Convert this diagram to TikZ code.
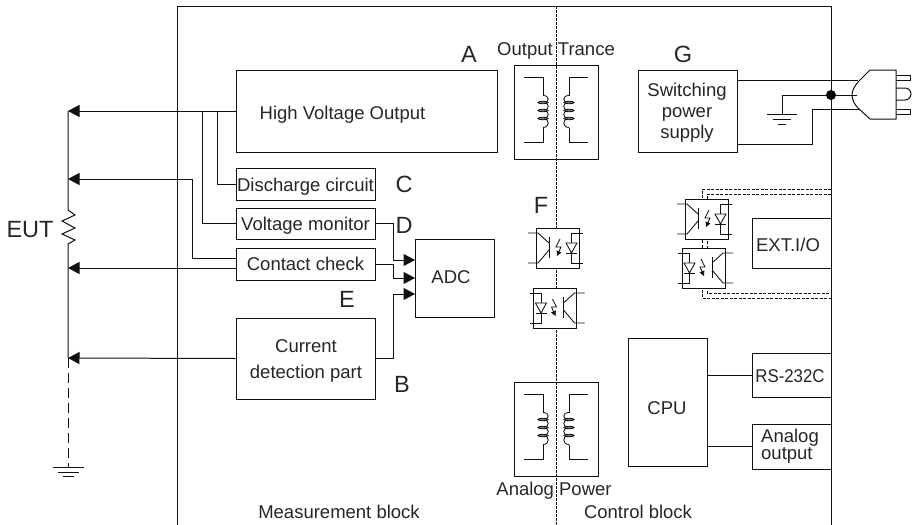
\documentclass[tikz,border=0pt]{standalone}
\usepackage{fontspec}
\setmainfont{Liberation Sans}
\usetikzlibrary{arrows.meta}
\definecolor{ink}{HTML}{101010}
\definecolor{txt}{HTML}{262626}
\tikzset{
  x=1pt,y=-1pt,
  wire/.style={draw=ink,line width=1pt},
  thin wire/.style={draw=ink,line width=0.85pt},
  blk/.style={draw=ink,line width=1pt,fill=white,rectangle,inner sep=0pt},
  hollow/.style={draw=ink,line width=1pt,rectangle,inner sep=0pt},
  lbl/.style={text=txt,inner sep=0pt,anchor=base,font=\fontsize{18.5}{21}\selectfont},
  lbl big/.style={text=txt,inner sep=0pt,anchor=base,font=\fontsize{23.5}{26}\selectfont},
  arr/.style={wire,-{Triangle[length=11.5pt,width=12pt]}},
  winding/.pic={
    \draw[thin wire] (-32,-32) -- (-13,-32) -- (-13,-14);
    \draw[thin wire] (-13,-14) .. controls (-6,-14) and (-6,-7) .. (-13,-7)
      .. controls (-6,-7) and (-6,1) .. (-13,1)
      .. controls (-6,1) and (-6,9) .. (-13,9)
      .. controls (-6,9) and (-6,18) .. (-13,18);
    \foreach \yy in {-7,1,9}{\draw[thin wire,fill=ink!60] (-13,\yy) ellipse [x radius=5pt,y radius=1.3pt];}
    \draw[thin wire] (-13,18) -- (-13,33) -- (-32,33);
  },
  opto/.pic={
    \draw[wire,fill=white] (0,0) rectangle (43,40);
    \draw[thin wire] (-8,5) -- (2,5) -- (13,15);
    \draw[thin wire] (13,9) -- (13,30);
    \draw[thin wire] (13,22) -- (2,35) -- (-8,35);
    \draw[thin wire] (47,5) -- (35.5,5) -- (35.5,15);
    \draw[thin wire] (30,15) -- (41,15) -- (35.5,25) -- cycle;
    \draw[thin wire] (30,25) -- (41,25);
    \draw[thin wire] (35.5,25) -- (35.5,35) -- (47,35);
    \draw[thin wire,-{Triangle[length=5pt,width=5pt]}] (24,11) -- (20,19) -- (25,19) -- (21,28);
  }
}
\begin{document}
\begin{tikzpicture}
\useasboundingbox (0,0) rectangle (914,525);

% frame
\coordinate (ftl) at (177,6);
\coordinate (fbl) at (177,525);
\coordinate (ftr) at (831,6);
\coordinate (fbr) at (831,525);
\draw[wire] (fbl) -- (ftl) -- (ftr) -- (fbr);
\coordinate (ct) at (556,6);
\coordinate (cb) at (556,525);
\draw[ink,line width=1pt,dash pattern=on 2.5pt off 1.5pt] (ct) -- (cb);

% EXT shield
\coordinate (s1) at (831,189);\coordinate (s2) at (702,189);\coordinate (s3) at (702,298);\coordinate (s4) at (831,298);
\coordinate (t1) at (831,194);\coordinate (t2) at (707,194);\coordinate (t3) at (707,293);\coordinate (t4) at (831,293);
\draw[ink,line width=0.9pt,dash pattern=on 3pt off 1.5pt] (s1) -- (s2) -- (s3) -- (s4);
\draw[ink,line width=0.9pt,dash pattern=on 3pt off 1.5pt] (t1) -- (t2) -- (t3) -- (t4);

% blocks
\node[blk,minimum width=261pt,minimum height=82pt] (hv) at (366.5,111) {};
\node[blk,minimum width=139pt,minimum height=32pt] (dc) at (305.5,184) {};
\node[blk,minimum width=139pt,minimum height=31pt] (vm) at (305.5,223.5) {};
\node[blk,minimum width=139pt,minimum height=32pt] (cc) at (305.5,264) {};
\node[blk,minimum width=139pt,minimum height=81pt] (cd) at (305.5,358.5) {};
\node[blk,minimum width=79pt,minimum height=78pt] (adc) at (454.5,278) {};
\node[hollow,minimum width=84pt,minimum height=94pt] (ot) at (556,112) {};
\node[hollow,minimum width=84pt,minimum height=94pt] (ap) at (556,429) {};
\node[blk,minimum width=99pt,minimum height=82pt] (sw) at (687.5,111) {};
\node[blk,minimum width=79pt,minimum height=50pt] (ext) at (791.5,243) {};
\node[blk,minimum width=79pt,minimum height=128pt] (cpu) at (667.5,402) {};
\node[blk,minimum width=79pt,minimum height=44pt] (rs) at (791.5,375) {};
\node[blk,minimum width=79pt,minimum height=45pt] (ao) at (791.5,446.5) {};

% transformer windings
\pic at (556,109.5) {winding};
\pic[xscale=-1] at (556,109.5) {winding};
\pic at (556,426.5) {winding};
\pic[xscale=-1] at (556,426.5) {winding};

% optocouplers
\pic at (536,228) {opto};
\pic[xscale=-1] at (576.5,288) {opto};
\pic at (685,199) {opto};
\pic[xscale=-1] at (725,248) {opto};

% EUT side
\coordinate (e1) at (68,111);
\coordinate (e2) at (68,179);
\coordinate (e3) at (68,268);
\coordinate (e4) at (68,358);
\coordinate (rt) at (68,210);
\coordinate (rb) at (68,247);
\coordinate (gnd) at (68,467);
\draw[wire] (e1) -- (rt) -- (75,215) -- (62,221) -- (75,228) -- (62,234) -- (75,240) -- (68,244) -- (rb) -- (e4);
\draw[ink,line width=1pt,dash pattern=on 10pt off 5pt] (e4) -- (gnd);
\draw[wire] (53,467) -- (84,467);
\draw[wire] (58,472) -- (79,472);
\draw[wire] (63,476.5) -- (74,476.5);

\draw[arr] (hv.west) -- (e1);
\coordinate (j1) at (217,111);
\coordinate (j2) at (202,111);
\draw[wire] (j1) |- (dc.west);
\draw[wire] (j2) |- (vm.west);
\coordinate (cc1) at (236,258);
\coordinate (cc2) at (236,268);
\coordinate (k1) at (192,179);
\draw[wire] (cc1) -| (k1);
\draw[arr] (k1) -- (e2);
\draw[arr] (cc2) -- (e3);
\draw[arr] (cd.west) -- (e4);

% to ADC
\coordinate (a1) at (415,260);
\coordinate (a2) at (415,278);
\coordinate (a3) at (415,294);
\coordinate (v1) at (375,223);
\coordinate (v2) at (375,264);
\draw[arr] (v1) -- (393,223) -- (393,260) -- (a1);
\draw[arr] (v2) -- (393,264) -- (393,278) -- (a2);
\draw[arr] (cd.east) -- (393,358.5) -- (393,294) -- (a3);

% CPU links
\draw[wire] (rs.west) -- (cpu.east |- rs.west);
\draw[wire] (ao.west) -- (cpu.east |- ao.west);

% mains
\coordinate (sw1) at (737,80);
\coordinate (sw2) at (737,144);
\coordinate (p1) at (858,80);
\coordinate (p2) at (859,109);
\coordinate (p3) at (857,95);
\coordinate (g1) at (782,95);
\coordinate (g2) at (782,114);
\coordinate (m1) at (812,109);
\coordinate (m2) at (812,144);
\draw[wire] (sw1) -- (p1);
\draw[wire] (sw2) -- (m2) -- (m1) -- (p2);
\draw[wire] (p3) -- (g1) -- (g2);
\draw[wire] (767,114) -- (797,114);
\draw[wire] (773,119) -- (791,119);
\draw[wire] (778,124) -- (786,124);
\node[circle,fill=black,minimum size=10pt,inner sep=0pt] (dot) at (831,95) {};
\draw[wire,line join=miter] (896,70) -- (870,70) -- (858,82) .. controls (854,87) and (852,91) .. (852,95) .. controls (852,99) and (854,104) .. (858,108) -- (870,119) -- (896,119) -- cycle;
\draw[wire] (896,75) -- (910,75) -- (910,80) -- (896,80);
\draw[wire] (896,109) -- (910,109) -- (910,114) -- (896,114);
\draw[wire] (896,88) -- (905,88) arc[start angle=90,end angle=-90,radius=6pt] -- (896,100);

% labels
\node[lbl] (lhv) at (342.5,119) {High Voltage Output};
\node[lbl] (ldc) at (305.5,191) {Discharge circuit};
\node[lbl] (lvm) at (305.5,230) {Voltage monitor};
\node[lbl] (lcc) at (305.5,270) {Contact check};
\node[lbl,align=center,font=\fontsize{18.5}{26}\selectfont] (lcd) at (306,378) {Current\\detection part};
\node[lbl] (ladc) at (451,283) {ADC};
\node[lbl] (lot) at (556,55) {Output Trance};
\node[lbl] (lap) at (554,495) {Analog Power};
\node[lbl,align=center] (lsw) at (687,138) {Switching\\power\\supply};
\node[lbl] (lext) at (788,251) {EXT.I/O};
\node[lbl] (lcpu) at (667,414) {CPU};
\node[lbl] (lrs) at (790,382) {\scalebox{.91}[1]{RS-232C}};
\node[lbl,align=left,font=\fontsize{18.5}{17}\selectfont,anchor=base west] (lao) at (761,459.5) {Analog\\output};
\node[lbl] (lmb) at (339,518) {Measurement block};
\node[lbl] (lcb) at (638,518) {Control block};
\node[lbl big] (la) at (469,62) {A};
\node[lbl big] (lb) at (402,392) {B};
\node[lbl big] (lc) at (404,192) {C};
\node[lbl big] (ld) at (404,233) {D};
\node[lbl big] (le) at (347,307) {E};
\node[lbl big] (lf) at (541,213) {F};
\node[lbl big] (lg) at (683,62) {G};
\node[lbl big] (leut) at (30,237) {EUT};
\end{tikzpicture}
\end{document}
